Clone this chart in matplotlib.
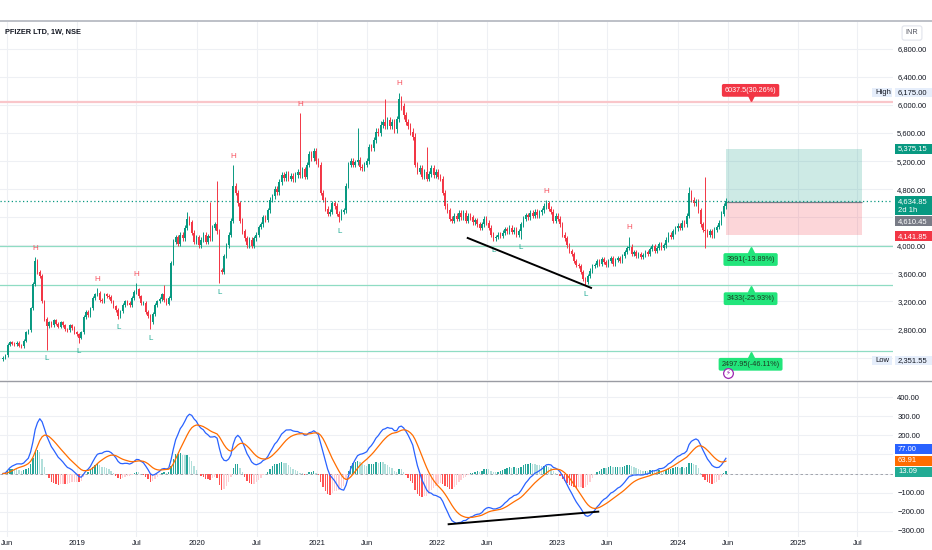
import numpy as np
import pandas as pd
import matplotlib
matplotlib.use("Agg")
import matplotlib.pyplot as plt
import matplotlib.dates as mdates
from matplotlib.transforms import offset_copy
from matplotlib.lines import Line2D
from matplotlib.patches import Rectangle

plt.rcParams['font.family'] = ['Liberation Sans', 'DejaVu Sans']

# PFIZER LTD weekly closes (NSE), 2018-05-21 .. 2024-05-27
closes = [
    2400, 2430, 2580, 2620, 2600, 2590, 2610, 2570, 2560, 2640,
    2760, 2790, 3100, 3450, 3780, 3620, 3560, 3200, 2950, 2850,
    2900, 2860, 2930, 2880, 2840, 2900, 2860, 2800, 2790, 2860,
    2820, 2760, 2730, 2680, 2760, 2980, 3050, 3000, 3100, 3250,
    3300, 3320, 3220, 3200, 3300, 3280, 3260, 3200, 3130, 3080,
    2990, 3060, 3150, 3200, 3180, 3150, 3250, 3330, 3370, 3270,
    3180, 3180, 3050, 2990, 2900, 3020, 3150, 3200, 3230, 3300,
    3220, 3170, 3250, 3750, 4050, 4120, 4020, 4150, 4100, 4250,
    4380, 4330, 4180, 4050, 4120, 4000, 4080, 4150, 4050, 4130,
    4100, 4250, 4300, 4200, 3650, 3620, 3850, 4000, 4150, 4350,
    4850, 4750, 4600, 4350, 4200, 4100, 4000, 4080, 3990, 4100,
    4150, 4260, 4300, 4400, 4360, 4500, 4650, 4700, 4800, 4760,
    4900, 5000, 4960, 5020, 4950, 4990, 4940, 5000, 5050, 5000,
    5080, 4980, 5150, 5300, 5250, 5350, 5200, 5150, 4750, 4650,
    4520, 4450, 4480, 4600, 4560, 4450, 4400, 4480, 4500, 4850,
    5150, 5200, 5150, 5180, 5220, 5120, 5100, 5150, 5200, 5400,
    5380, 5500, 5620, 5600, 5720, 5760, 5700, 5780, 5700, 5760,
    5650, 5800, 6080, 5980, 5850, 5760, 5700, 5620, 5550, 5150,
    5050, 5100, 4980, 5050, 4950, 5020, 5100, 5000, 5050, 4980,
    4950, 4750, 4560, 4500, 4380, 4350, 4420, 4380, 4460, 4400,
    4460, 4350, 4420, 4400, 4330, 4360, 4300, 4250, 4300, 4380,
    4320, 4250, 4150, 4100, 4120, 4150, 4130, 4180, 4230, 4200,
    4250, 4190, 4220, 4150, 4200, 4300, 4380, 4430, 4400, 4460,
    4420, 4480, 4430, 4470, 4500, 4560, 4600, 4520, 4480, 4350,
    4420, 4380, 4300, 4150, 4100, 4000, 3920, 3880, 3780, 3720,
    3700, 3620, 3520, 3470, 3560, 3640, 3700, 3720, 3780, 3740,
    3800, 3760, 3720, 3780, 3820, 3740, 3790, 3820, 3780, 3850,
    3900, 3960, 3980, 3880, 3900, 3850, 3870, 3840, 3860, 3900,
    3880, 3950, 3990, 3920, 3960, 4020, 3960, 4000, 4080, 4150,
    4120, 4200, 4240, 4280, 4250, 4320, 4300, 4420, 4750, 4650,
    4600, 4620, 4500, 4300, 4220, 4200, 4150, 4200, 4140, 4220,
    4260, 4320, 4450, 4560, 4634.85,
]
first_open = 2380
last_week = "2024-05-27"

# long wicks that stand out on the chart
wick_highs = {
    "2018-08-27": 3830, "2019-03-04": 3390, "2019-07-01": 3460, "2019-09-23": 3440,
    "2019-12-02": 4480, "2020-02-10": 4620, "2020-03-02": 4910, "2020-04-20": 5140,
    "2020-11-09": 5880, "2021-05-03": 5670, "2021-07-26": 6090, "2021-09-06": 6175,
    "2021-11-29": 5400, "2022-11-28": 4640, "2023-08-07": 4120, "2024-02-05": 4830,
    "2024-03-25": 4970,
}
wick_lows = {
    "2018-05-21": 2351.55, "2018-10-01": 2510, "2019-01-07": 2610, "2019-05-06": 2950,
    "2019-08-12": 2800, "2020-03-09": 3460, "2021-03-08": 4330, "2022-06-20": 4060,
    "2022-09-12": 4090, "2023-03-27": 3433, "2024-03-25": 3960,
}
pivot_highs = ["2018-08-27", "2019-03-04", "2019-07-01", "2020-04-20", "2020-11-09",
               "2021-09-06", "2022-11-28", "2023-08-07"]
pivot_lows = ["2018-10-01", "2019-01-07", "2019-05-06", "2019-08-12", "2020-03-09",
              "2021-03-08", "2022-06-20", "2022-09-12", "2023-03-27"]

res_level, res_label = 6037.5, "6037.5(30.26%)"
sup_levels = [3991, 3433, 2497.95]
sup_labels = ["3991(-13.89%)", "3433(-25.93%)", "2497.95(-46.11%)"]

pos_start, pos_end = "2024-05-27", "2025-07-14"
pos_target, pos_entry, pos_stop = 5375.15, 4610.45, 4141.85
last_close, countdown = 4634.85, "2d 1h"
high_val, low_val = 6175.00, 2351.55

price_trend_dates, price_trend_vals = ["2022-04-03", "2023-04-13"], [4104, 3393]
macd_trend_dates, macd_trend_vals = ["2022-02-04", "2023-05-05"], [-266, -200]

macd_tags = [77.00, 63.91, 13.09]

price_ticks = [2400, 2800, 3200, 3600, 4000, 4400, 4800, 5200, 5600, 6000, 6400, 6800]
hidden_price_ticks = [2400, 4400]    # covered by the price tags
macd_ticks = [-300, -200, -100, 0, 100, 200, 300, 400]
hidden_macd_ticks = [0, 100]         # covered by the MACD tags
date_ticks = ["2018-06-01", "2019-01-01", "2019-07-01", "2020-01-01", "2020-07-01",
              "2021-01-01", "2021-06-01", "2022-01-01", "2022-06-01", "2023-01-01",
              "2023-06-01", "2024-01-01", "2024-06-01", "2025-01-01", "2025-07-01"]
date_labels = ["Jun", "2019", "Jul", "2020", "Jul", "2021", "Jun", "2022", "Jun",
               "2023", "Jun", "2024", "Jun", "2025", "Jul"]

UP, DOWN = "#089981", "#f23645"
TXT = "#131722"
GRID = "#eef0f4"
FS = 5.5

# ---- OHLC
dates = pd.date_range(end=last_week, periods=len(closes), freq="W-MON")
c = np.array(closes, dtype=float)
o = np.r_[first_open, c[:-1]]
h = np.maximum(o, c) * 1.008
l = np.minimum(o, c) * 0.992
for d, v in wick_highs.items():
    k = dates.get_loc(pd.Timestamp(d))
    h[k] = max(v, o[k], c[k])
for d, v in wick_lows.items():
    k = dates.get_loc(pd.Timestamp(d))
    l[k] = min(v, o[k], c[k])

# ---- MACD(12, 26, 9)
s = pd.Series(c, index=dates)
macd = s.ewm(span=12, adjust=False).mean() - s.ewm(span=26, adjust=False).mean()
signal = macd.ewm(span=9, adjust=False).mean()
hist = macd - signal
prev = hist.shift(1).fillna(0)
hist_cols = np.where(hist >= 0,
                     np.where(hist >= prev, "#26a69a", "#b2dfdb"),
                     np.where(hist >= prev, "#ffcdd2", "#ff5252"))

# ---- figure
W, H = 932, 550
fig = plt.figure(figsize=(W / 100, H / 100), dpi=100)


def box(x0, y0, x1, y1):
    return [x0 / W, 1 - y1 / H, (x1 - x0) / W, (y1 - y0) / H]


ax = fig.add_axes(box(0, 22, 893, 380))
ax2 = fig.add_axes(box(0, 382, 893, 537), sharex=ax)

for a in (ax, ax2):
    for sp in a.spines.values():
        sp.set_visible(False)
    a.yaxis.tick_right()
    a.tick_params(length=0, labelsize=FS, colors=TXT, pad=3)
    a.set_xticks(pd.to_datetime(date_ticks))
    a.grid(True, color=GRID, lw=0.8, zorder=0)
    a.set_axisbelow(True)

ax.set_xlim(pd.Timestamp("2018-05-12"), pd.Timestamp("2025-10-17"))
ax.set_ylim(2080, 7182)
ax.set_yticks(price_ticks)
ax.set_yticklabels(["" if v in hidden_price_ticks else f"{v:,.2f}" for v in price_ticks])
ax.tick_params(labelbottom=False)

ax2.set_ylim(-333, 480)
ax2.set_yticks(macd_ticks)
ax2.set_yticklabels(["" if v in hidden_macd_ticks else f"{v:.2f}".replace("-", "\u2212")
                     for v in macd_ticks])
ax2.set_xticklabels(date_labels)
ax2.tick_params(axis="x", pad=2)

# levels
ax.axhline(res_level, color="#f9c6ca", lw=1.6, zorder=1)
for lv in sup_levels:
    ax.axhline(lv, color="#8fdcc3", lw=0.9, zorder=1)

# long position tool
d0, d1 = pd.Timestamp(pos_start), pd.Timestamp(pos_end)
ax.fill_between([d0, d1], pos_entry, pos_target, color=UP, alpha=0.2, lw=0, zorder=1)
ax.fill_between([d0, d1], pos_stop, pos_entry, color=DOWN, alpha=0.2, lw=0, zorder=1)
ax.hlines(pos_entry, d0, d1, color="#787b86", lw=0.9, zorder=2)

# candles
cols = np.where(c >= o, UP, DOWN)
ax.vlines(dates, l, h, colors=cols, lw=0.7, zorder=3)
ax.bar(dates, np.maximum(np.abs(c - o), 10), bottom=np.minimum(o, c), width=4.6,
       color=cols, lw=0, zorder=3)

ax.axhline(last_close, color=UP, lw=0.9, ls=(0, (1, 2)), zorder=4)

# pivots
for d in pivot_highs:
    k = dates.get_loc(pd.Timestamp(d))
    ax.annotate("H", (dates[k], h[k]), xytext=(0, 6.5), textcoords="offset points",
                ha="center", va="center", fontsize=FS + 0.3, color="#f7525f", zorder=5)
for d in pivot_lows:
    k = dates.get_loc(pd.Timestamp(d))
    ax.annotate("L", (dates[k], l[k]), xytext=(0, -6.5), textcoords="offset points",
                ha="center", va="center", fontsize=FS + 0.3, color="#22ab94", zorder=5)

ax.plot(pd.to_datetime(price_trend_dates), price_trend_vals, color="black", lw=1.4, zorder=6)

# level labels
lab_x = mdates.date2num(pd.Timestamp("2024-08-10"))
ax.annotate(res_label, (lab_x, res_level), xytext=(0, 8.6), textcoords="offset points",
            ha="center", va="center", fontsize=FS - 0.3, color="white", zorder=8,
            bbox=dict(boxstyle="round,pad=0.4,rounding_size=0.25", fc=DOWN, ec="none"))
ax.plot([lab_x], [res_level], marker="v", ms=4, color=DOWN, zorder=8,
        transform=offset_copy(ax.transData, fig=fig, y=4, units="dots"))
for lv, txt in zip(sup_levels, sup_labels):
    ax.annotate(txt, (lab_x, lv), xytext=(0, -9.8), textcoords="offset points",
                ha="center", va="center", fontsize=FS - 0.3, color="#1d3b24", zorder=8,
                bbox=dict(boxstyle="round,pad=0.4,rounding_size=0.25", fc="#22e57b", ec="none"))
    ax.plot([lab_x], [lv], marker="^", ms=4, color="#22e57b", zorder=8,
            transform=offset_copy(ax.transData, fig=fig, y=-4, units="dots"))

# event icon
ev_x = mdates.date2num(pd.Timestamp("2024-06-01"))
ax.plot([ev_x], [2180], marker="o", ms=7, mfc="white", mec="#9c27b0", mew=0.9, zorder=9,
        clip_on=False)
ax.text(ev_x, 2180, "\u26a1", ha="center", va="center", fontsize=5, color="#9c27b0",
        zorder=10, family=["DejaVu Sans"])

# MACD pane
ax2.axhline(0, color="#9598a1", lw=0.6, ls=(0, (3, 3)), zorder=1)
ax2.bar(dates, hist, width=4.2, color=hist_cols, lw=0, zorder=2)
ax2.plot(dates, macd, color="#2962ff", lw=0.9, zorder=3)
ax2.plot(dates, signal, color="#ff6d00", lw=0.9, zorder=3)
ax2.plot(pd.to_datetime(macd_trend_dates), macd_trend_vals, color="black", lw=1.4, zorder=4)


def tag(a, v, lines, fc, tc="white", dy=0, x0=895, x1=932, hgt=10):
    # price-scale tag: a filled box on the right scale, centred on the value (+dy px)
    yc = a.transData.transform((0, v))[1] + dy
    n = len(lines)
    hh = hgt * n - (1 if n > 1 else 0)
    fig.add_artist(Rectangle((x0 / W, (yc - hh / 2) / H), (x1 - x0) / W, hh / H,
                             transform=fig.transFigure, fc=fc, ec="none", zorder=20))
    for j, t in enumerate(lines):
        ty = yc + (n - 1) * 4.6 - j * 9.2
        fig.text((x0 + 3) / W, ty / H, t, ha="left", va="center", fontsize=FS,
                 color=tc, zorder=21)


tag(ax, pos_target, [f"{pos_target:,.2f}"], UP)
tag(ax, last_close, [f"{last_close:,.2f}", countdown], UP, dy=-5)
tag(ax, pos_entry, [f"{pos_entry:,.2f}"], "#787b86", dy=-19)
tag(ax, pos_stop, [f"{pos_stop:,.2f}"], DOWN, dy=-1)
for v, word in ((high_val, "High"), (low_val, "Low")):
    tag(ax, v, [f"{v:,.2f}"], "#e6eefb", tc=TXT, hgt=9)
    tag(ax, v, [word], "#e6eefb", tc=TXT, x0=872, x1=892, hgt=9)

tag(ax2, macd_tags[0], [f"{macd_tags[0]:.2f}"], "#2962ff", dy=9.5)
tag(ax2, macd_tags[1], [f"{macd_tags[1]:.2f}"], "#ff6d00", dy=0.5)
tag(ax2, macd_tags[2], [f"{macd_tags[2]:.2f}"], "#22ab94", dy=-0.5)

# frame, title and currency box
fig.add_artist(Line2D([0, 1], [1 - 21 / H] * 2, color="#b2b5be", lw=1.2))
fig.add_artist(Line2D([0, 1], [1 - 381 / H] * 2, color="#9a9ca3", lw=1.0))
fig.text(5 / W, 1 - 32 / H, "PFIZER LTD, 1W, NSE", fontsize=FS - 0.2, weight="bold",
         color=TXT, va="center")
fig.text(912 / W, 1 - 33 / H, "INR", fontsize=FS - 0.3, color="#50535e", ha="center",
         va="center", bbox=dict(boxstyle="round,pad=0.5,rounding_size=0.3", fc="white",
                                ec="#e0e3eb", lw=0.8))

fig.savefig("out.png", dpi=100)
